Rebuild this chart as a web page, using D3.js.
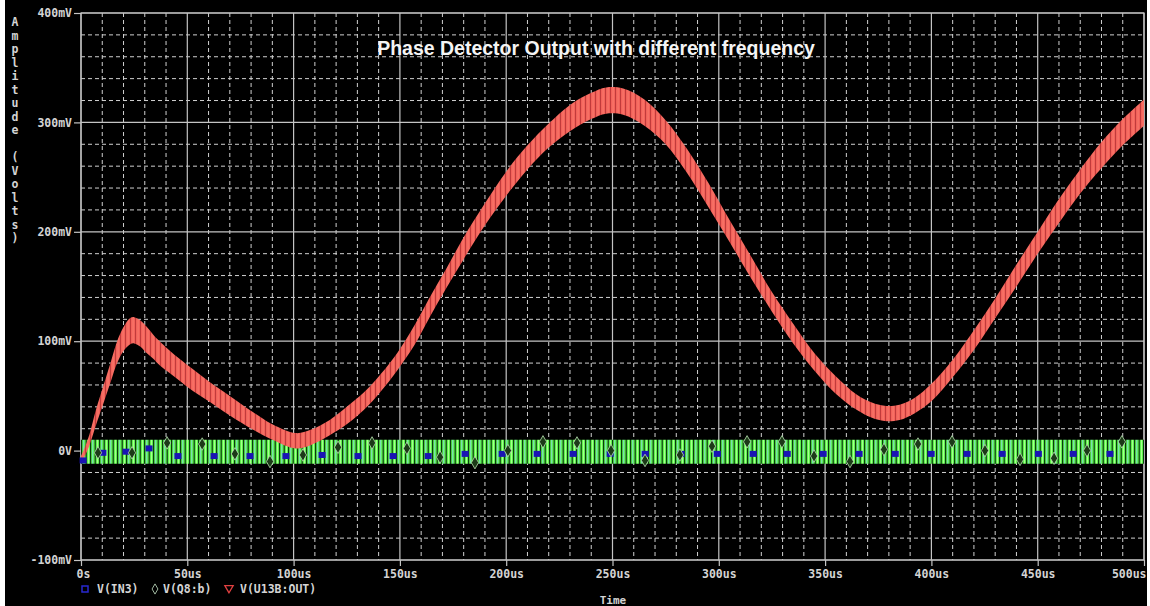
<!DOCTYPE html>
<html>
<head>
<meta charset="utf-8">
<script src="https://cdn.jsdelivr.net/npm/d3@7"></script>
<style>
  body { margin: 0; background: #fff; }
  svg { display: block; }
</style>
</head>
<body>
<svg width="1150" height="606"></svg>
<script>
// red trace V(U13B:OUT): band centre and half thickness (mV)
var redT = [0, 2, 4, 7, 10, 14, 17, 20, 23, 25, 28, 31, 34, 37, 45, 53, 61, 70, 81, 90, 101, 108, 117, 125, 133, 141, 149, 157, 164, 172, 180, 190, 200, 210, 220, 230, 240, 247, 255, 265, 275, 285, 295, 305, 315, 325, 335, 345, 355, 365, 372, 378, 385, 392, 400, 410, 420, 430, 440, 450, 460, 470, 480, 490, 500];
var redMid = [-8, 0, 10, 30, 48, 72, 90, 102, 109, 110, 107, 101, 95, 89, 76, 64, 53, 41, 27, 17, 9, 12, 21, 32, 45, 62, 82, 106, 131, 158, 185, 216, 244, 268, 288, 304, 315, 320, 319, 309, 291, 265, 234, 201, 168, 136, 107, 81, 60, 44, 37, 34, 35, 41, 53, 75, 101, 130, 160, 190, 219, 246, 270, 291, 309];
var redHalf = [3, 4, 5, 7, 8, 9, 10, 11, 12, 12, 12, 12, 11, 11, 10, 10, 9, 9, 8, 7, 7, 7, 7, 8, 8, 8, 8, 9, 9, 9, 10, 10, 11, 11, 11, 12, 12, 12, 12, 12, 11, 11, 11, 10, 10, 9, 9, 8, 8, 7, 7, 7, 7, 7, 8, 8, 9, 9, 10, 10, 11, 11, 12, 12, 12];

// green band (fast signal) limits, mV
var greenT = [0, 500];
var greenHi = [10, 10];
var greenLo = [-12, -12];

// V(IN3) square markers
var blueT = [1, 10.3, 21.2, 32, 45.6, 62.6, 79.5, 96.4, 113.4, 130.3, 146.8, 163.3, 180.7, 198.1, 214.6, 231.5, 248.9, 265.4, 282.3, 299.3, 316.2, 332.2, 349.1, 366, 383, 399.9, 416.8, 433.3, 450.3, 466.7, 484];
var blueV = [-9, -2, -1, 2, -5, -5, -5, -5, -4, -5, -5, -5, -3, -3, -3, -3, -3, -3, -3, -3, -3, -3, -3, -3, -3, -3, -3, -3, -3, -3, -3];

// V(Q8:b) diamond markers
var diaT = [8, 24, 40.5, 57, 72.4, 88.9, 104.4, 120.9, 136.9, 153.3, 168.9, 185.3, 200.8, 217.3, 233.3, 249.3, 265.3, 281.7, 296.8, 313.3, 329.7, 344.8, 361.7, 377.7, 393.7, 409.7, 425.2, 441.7, 457.7, 473.2, 489.6];
var diaV = [-2, -2, 7, 6, -3, -10, -4, 3, 7, 2, -6, -11, 0, 8, 7, 0, -9, -4, 4, 8, 8, -5, -10, 1, 6, 8, 0, -8, -7, 0, 8];

var xTicks = [0, 50, 100, 150, 200, 250, 300, 350, 400, 450, 500];
var yTicks = [-100, 0, 100, 200, 300, 400];
var yTitle = "Amplitude (Volts)";
var legendNames = ["V(IN3)", "V(Q8:b)", "V(U13B:OUT)"];

var svg = d3.select("svg");
var mono = "'DejaVu Sans Mono', monospace";

var x = d3.scaleLinear().domain([0, 500]).range([81, 1144]);
var y = d3.scaleLinear().domain([-100, 400]).range([560, 13]);

svg.append("rect").attr("x", 5).attr("y", 0).attr("width", 1142).attr("height", 606).attr("fill", "#000");

var defs = svg.append("defs");
var gp = defs.append("pattern").attr("id", "greenTex").attr("patternUnits", "userSpaceOnUse")
  .attr("width", 9).attr("height", 40);
gp.append("rect").attr("width", 9).attr("height", 40).attr("fill", "#5cf24a");
gp.append("rect").attr("x", 0).attr("width", 1.2).attr("height", 40).attr("fill", "#0b3a10");
gp.append("rect").attr("x", 2.2).attr("width", 1).attr("height", 40).attr("fill", "#8fd6ff").attr("opacity", 0.7);
gp.append("rect").attr("x", 4.6).attr("width", 1.2).attr("height", 40).attr("fill", "#0b3a10");
gp.append("rect").attr("x", 7).attr("width", 1).attr("height", 40).attr("fill", "#a8ff90");

var rp = defs.append("pattern").attr("id", "redTex").attr("patternUnits", "userSpaceOnUse")
  .attr("width", 5).attr("height", 40);
rp.append("rect").attr("width", 5).attr("height", 40).attr("fill", "#f2625a");
rp.append("rect").attr("x", 0).attr("width", 0.9).attr("height", 40).attr("fill", "#a8282a").attr("opacity", 0.75);
rp.append("rect").attr("x", 2.6).attr("width", 1).attr("height", 40).attr("fill", "#ff8a7a").attr("opacity", 0.6);

// minor grid
var minorX = d3.range(0, 501, 10).filter(function (d) { return d % 50 !== 0; });
var minorY = d3.range(-100, 401, 20).filter(function (d) { return d % 100 !== 0; });
var grid = svg.append("g");
grid.selectAll(".mx").data(minorX).enter().append("line")
  .attr("x1", function (d) { return x(d); }).attr("x2", function (d) { return x(d); })
  .attr("y1", y(400)).attr("y2", y(-100))
  .attr("stroke", "#d0d0d0").attr("stroke-dasharray", "4,3");
grid.selectAll(".my").data(minorY).enter().append("line")
  .attr("y1", function (d) { return y(d); }).attr("y2", function (d) { return y(d); })
  .attr("x1", x(0)).attr("x2", x(500))
  .attr("stroke", "#d0d0d0").attr("stroke-dasharray", "4,3");
// major grid
grid.selectAll(".Mx").data(xTicks).enter().append("line")
  .attr("x1", function (d) { return x(d); }).attr("x2", function (d) { return x(d); })
  .attr("y1", y(400)).attr("y2", y(-100))
  .attr("stroke", "#c4c4c4").attr("stroke-width", 1.2);
grid.selectAll(".My").data(yTicks).enter().append("line")
  .attr("y1", function (d) { return y(d); }).attr("y2", function (d) { return y(d); })
  .attr("x1", x(0)).attr("x2", x(500))
  .attr("stroke", "#c4c4c4").attr("stroke-width", 1.2);

// axes
var fmtY = function (d) { return d === 0 ? "0V" : d + "mV"; };
var fmtX = function (d) { return d === 0 ? "0s" : d + "us"; };

var ya = svg.append("g").attr("transform", "translate(" + x(0) + ",0)")
  .call(d3.axisLeft(y).tickValues(yTicks).tickFormat(fmtY).tickSize(7).tickPadding(2));
var xa = svg.append("g").attr("transform", "translate(0," + y(-100) + ")")
  .call(d3.axisBottom(x).tickValues(xTicks).tickFormat(fmtX).tickSize(6).tickPadding(4));
[ya, xa].forEach(function (a) {
  a.select(".domain").remove();
  a.selectAll("line").attr("stroke", "#c4c4c4").attr("stroke-width", 1.2);
  a.selectAll("text").attr("fill", "#d4d4d4").style("font-family", mono)
    .style("font-size", "11.5px").style("font-weight", "bold");
});
xa.selectAll("text").filter(function (d) { return d === 0; }).attr("text-anchor", "start").attr("dx", -5);
xa.selectAll("text").filter(function (d) { return d === 500; }).attr("text-anchor", "end").attr("dx", 2);

// frame
svg.append("rect").attr("x", x(0)).attr("y", y(400))
  .attr("width", x(500) - x(0)).attr("height", y(-100) - y(400))
  .attr("fill", "none").attr("stroke", "#c4c4c4").attr("stroke-width", 1.2);

// green band
var gData = greenT.map(function (t, i) { return { t: t, hi: greenHi[i], lo: greenLo[i] }; });
svg.append("path").datum(gData)
  .attr("d", d3.area().x(function (d) { return x(d.t); })
    .y0(function (d) { return y(d.lo); }).y1(function (d) { return y(d.hi); }))
  .attr("fill", "url(#greenTex)");

// red band
var rData = redT.map(function (t, i) { return { t: t, m: redMid[i], h: redHalf[i] }; });
svg.append("path").datum(rData)
  .attr("d", d3.area().curve(d3.curveCatmullRom.alpha(0.5)).x(function (d) { return x(d.t); })
    .y0(function (d) { return y(d.m - d.h); }).y1(function (d) { return y(d.m + d.h); }))
  .attr("fill", "url(#redTex)");

// markers
svg.selectAll(".sq").data(blueT).enter().append("rect")
  .attr("x", function (d) { return x(d) - 3.5; })
  .attr("y", function (d, i) { return y(blueV[i]) - 3; })
  .attr("width", 7).attr("height", 6).attr("fill", "#1a14b4");
svg.selectAll(".dm").data(diaT).enter().append("path")
  .attr("transform", function (d, i) { return "translate(" + x(d) + "," + y(diaV[i]) + ")"; })
  .attr("d", d3.symbol().type(d3.symbolDiamond).size(45))
  .attr("fill", "#1c3a18").attr("stroke", "#b8e0b0").attr("stroke-width", 0.8);

// title
svg.append("text").attr("x", 596).attr("y", 55).attr("text-anchor", "middle")
  .attr("fill", "#f4f4f4").style("font-family", "'Liberation Sans', Arial, sans-serif")
  .style("font-size", "19.5px").style("font-weight", "bold")
  .text("Phase Detector Output with different frequency");

// vertical stacked y title
svg.append("g").selectAll("text").data(yTitle.split("")).enter().append("text")
  .attr("x", 15).attr("y", function (d, i) { return 26 + i * 13.5; })
  .attr("text-anchor", "middle").attr("fill", "#d4d4d4")
  .style("font-family", mono).style("font-size", "11.5px").style("font-weight", "bold")
  .text(function (d) { return d; });

// x title
svg.append("text").attr("x", 613).attr("y", 604).attr("text-anchor", "middle")
  .attr("fill", "#d4d4d4").style("font-family", mono).style("font-size", "11px").style("font-weight", "bold")
  .text("Time");

// legend
var lg = svg.append("g").style("font-family", mono).style("font-size", "11.5px").style("font-weight", "bold");
lg.append("rect").attr("x", 82).attr("y", 586).attr("width", 6).attr("height", 6)
  .attr("fill", "none").attr("stroke", "#2828d0").attr("stroke-width", 1.5);
lg.append("path").attr("transform", "translate(155,589)").attr("d", d3.symbol().type(d3.symbolDiamond).size(30))
  .attr("fill", "none").attr("stroke", "#a0b8a0").attr("stroke-width", 1);
lg.append("path").attr("transform", "translate(229,588) rotate(180)").attr("d", d3.symbol().type(d3.symbolTriangle).size(30))
  .attr("fill", "none").attr("stroke", "#e04040").attr("stroke-width", 1.3);
[[97, 0], [163, 1], [240, 2]].forEach(function (p) {
  lg.append("text").attr("x", p[0]).attr("y", 593).attr("fill", "#d4d4d4").text(legendNames[p[1]]);
});
</script>
</body>
</html>
